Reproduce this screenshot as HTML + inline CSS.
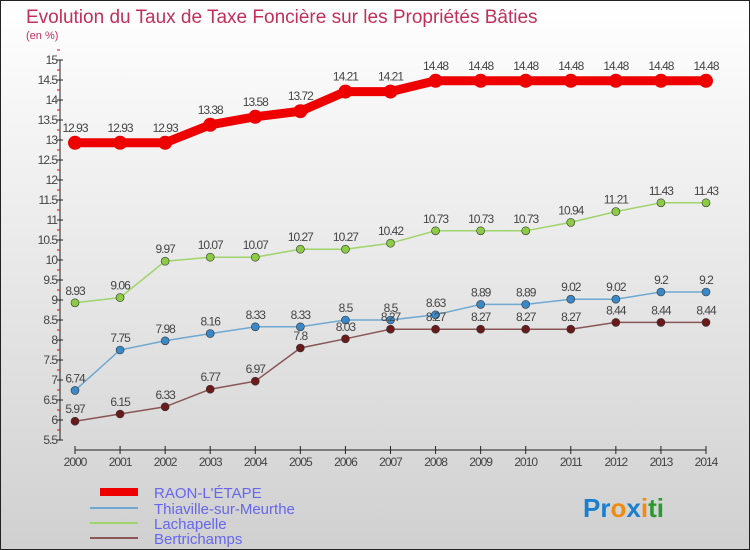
<!DOCTYPE html>
<html><head><meta charset="utf-8"><style>
body{margin:0}
#c{width:750px;height:550px;position:relative;overflow:hidden;font-family:"Liberation Sans",sans-serif}
</style></head><body>
<div id="c">
<svg id="s" width="750" height="550" xmlns="http://www.w3.org/2000/svg">
<defs><linearGradient id="bg" x1="0" y1="0" x2="0" y2="1"><stop offset="0" stop-color="#ffffff"/><stop offset="1" stop-color="#d0d0d0"/></linearGradient></defs>
<rect x="0.5" y="0.5" width="749" height="549" fill="url(#bg)" stroke="#222"/>
<text x="26" y="23" font-size="19" fill="#c2305a">Evolution du Taux de Taxe Foncière sur les Propriétés Bâties</text>
<text x="26" y="39" font-size="11" fill="#c2305a">(en %)</text>
<g id="axes"></g><g id="series"></g>
<g>
<rect x="100" y="488" width="38" height="8" fill="#e00"/>
<text x="154" y="498" font-size="15" fill="#6666ee">RAON-L'ÉTAPE</text>
<rect x="90" y="507" width="48" height="2" fill="#6fa8d0"/>
<text x="154" y="514" font-size="15" fill="#6666ee">Thiaville-sur-Meurthe</text>
<rect x="90" y="522" width="48" height="2" fill="#9ed46a"/>
<text x="154" y="529" font-size="15" fill="#6666ee">Lachapelle</text>
<rect x="90" y="537" width="48" height="2" fill="#8a5555"/>
<text x="154" y="544" font-size="15" fill="#6666ee">Bertrichamps</text>
</g>
<text x="583" y="517" font-size="26" font-weight="bold"><tspan fill="#1a7fd0">Pr</tspan><tspan fill="#f08a10">o</tspan><tspan fill="#1a7fd0">x</tspan><tspan fill="#f08a10">i</tspan><tspan fill="#2a9a30">ti</tspan></text>
</svg>
</div>
<script>
const years=[2000,2001,2002,2003,2004,2005,2006,2007,2008,2009,2010,2011,2012,2013,2014];
const raon=[12.93,12.93,12.93,13.38,13.58,13.72,14.21,14.21,14.48,14.48,14.48,14.48,14.48,14.48,14.48];
const thiaville=[6.74,7.75,7.98,8.16,8.33,8.33,8.5,8.5,8.63,8.89,8.89,9.02,9.02,9.2,9.2];
const lachapelle=[8.93,9.06,9.97,10.07,10.07,10.27,10.27,10.42,10.73,10.73,10.73,10.94,11.21,11.43,11.43];
const bertrichamps=[5.97,6.15,6.33,6.77,6.97,7.8,8.03,8.27,8.27,8.27,8.27,8.27,8.44,8.44,8.44];
const yTicks=[5.5,6,6.5,7,7.5,8,8.5,9,9.5,10,10.5,11,11.5,12,12.5,13,13.5,14,14.5,15];
const NS="http://www.w3.org/2000/svg";
const X=i=>75+i*(706-75)/(years.length-1);
const Y=v=>440-(v-5.5)*40;
function mk(t,a,p){const e=document.createElementNS(NS,t);for(const k in a)e.setAttribute(k,a[k]);p.appendChild(e);return e;}
const ax=document.getElementById('axes');
const yl=mk('line',{x1:60,y1:Y(15),x2:60,y2:Y(5.5),stroke:'#222'},ax);


yTicks.forEach(v=>{
 mk('line',{x1:57,y1:Y(v),x2:63,y2:Y(v),stroke:'#222'},ax);
 mk('line',{x1:57,y1:Y(v+0.25),x2:60,y2:Y(v+0.25),stroke:'#e00'},ax);
 const t=mk('text',{x:57,y:Y(v)+4,'font-size':12,fill:'#444','text-anchor':'end','letter-spacing':'-1'},ax);
 t.textContent=String(v);
 
 
});
const xl=mk('line',{x1:X(0),y1:450,x2:X(years.length-1),y2:450,stroke:'#222'},ax);


years.forEach((y,i)=>{
 mk('line',{x1:X(i),y1:446,x2:X(i),y2:454,stroke:'#222'},ax);
 const t=mk('text',{x:X(i),y:466,'font-size':12,fill:'#444','text-anchor':'middle','letter-spacing':'-1'},ax);
 t.textContent=String(y);
 
 
});
const sg=document.getElementById('series');
function series(vals,name,color,w,r,dot){
 const g=mk('g',{},sg);
 
 
 mk('polyline',{points:vals.map((v,i)=>X(i)+','+Y(v)).join(' '),fill:'none',stroke:color,'stroke-width':w},g);
 vals.forEach((v,i)=>{
  const c=mk('circle',{cx:X(i),cy:Y(v),r:r,fill:dot,stroke:r>5?'none':'#333','stroke-width':0.6},g);
  
  
  const t=mk('text',{x:X(i),y:Y(v)-(r>5?11:8),'font-size':12,fill:'#444','text-anchor':'middle','letter-spacing':'-1'},g);
  t.textContent=String(v);
  
  
 });
}
series(lachapelle,'lachapelle','#9ed46a',1.5,4,'#8ccc44');
series(thiaville,'thiaville','#6fa8d0',1.5,4,'#3a88c8');
series(bertrichamps,'bertrichamps','#8a5555',1.5,4,'#6a1a1a');
series(raon,'raon','#e00',9,7,'#e00');
</script>
</body></html>
